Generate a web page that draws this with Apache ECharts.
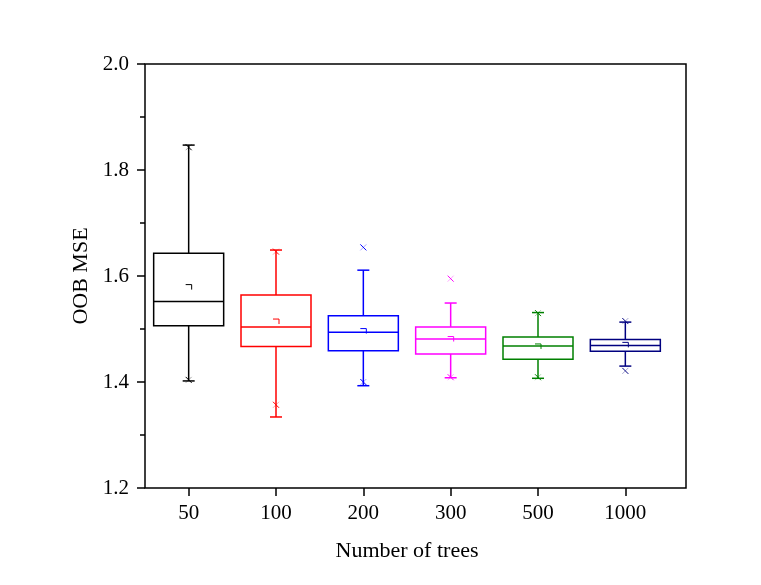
<!DOCTYPE html>
<html>
<head>
<meta charset="utf-8">
<script src="https://cdn.jsdelivr.net/npm/echarts@6/dist/echarts.min.js"></script>
<style>html,body{margin:0;padding:0;background:#fff;}#c{width:761px;height:585px;}</style>
</head>
<body>
<div id="c"></div>
<script>
var categories = ['50', '100', '200', '300', '500', '1000'];
var whiskerLow = [1.402, 1.334, 1.393, 1.408, 1.407, 1.430];
var q1 = [1.506, 1.467, 1.459, 1.453, 1.443, 1.458];
var median = [1.552, 1.504, 1.494, 1.481, 1.468, 1.469];
var q3 = [1.643, 1.564, 1.525, 1.504, 1.485, 1.480];
var whiskerHigh = [1.847, 1.649, 1.611, 1.549, 1.531, 1.513];
var meanVals = [1.580, 1.515, 1.497, 1.482, 1.468, 1.471];
var p1 = [1.404, 1.357, 1.400, 1.409, 1.409, 1.421];
var p99 = [1.843, 1.646, 1.654, 1.595, 1.530, 1.515];
var yTicks = [1.2, 1.4, 1.6, 1.8, 2.0];
var colors = ['#000000', '#FF0000', '#0000FF', '#FF00FF', '#008000', '#000080'];

var FONT = "'Liberation Serif','Times New Roman',serif";

var boxData = categories.map(function (c, i) {
  return [i, whiskerLow[i], q1[i], median[i], q3[i], whiskerHigh[i], meanVals[i], p1[i], p99[i]];
});

function renderBox(params, api) {
  var i = api.value(0);
  var col = colors[i];
  var lo = api.coord([i, api.value(1)]);
  var pq1 = api.coord([i, api.value(2)]);
  var pmed = api.coord([i, api.value(3)]);
  var pq3 = api.coord([i, api.value(4)]);
  var hi = api.coord([i, api.value(5)]);
  var pm = api.coord([i, api.value(6)]);
  var pp1 = api.coord([i, api.value(7)]);
  var pp99 = api.coord([i, api.value(8)]);
  var x = pmed[0];
  var hw = 35, cw = 6, lw = 1.5;
  var st = {stroke: col, lineWidth: lw, fill: null};
  var thin = {stroke: col, lineWidth: 1, fill: null};
  var ch = [];
  ch.push({type: 'rect', shape: {x: x - hw, y: pq3[1], width: 2 * hw, height: pq1[1] - pq3[1]}, style: st});
  ch.push({type: 'line', shape: {x1: x - hw, y1: pmed[1], x2: x + hw, y2: pmed[1]}, style: st});
  ch.push({type: 'line', shape: {x1: x, y1: pq3[1], x2: x, y2: hi[1]}, style: st});
  ch.push({type: 'line', shape: {x1: x, y1: pq1[1], x2: x, y2: lo[1]}, style: st});
  ch.push({type: 'line', shape: {x1: x - cw, y1: hi[1], x2: x + cw, y2: hi[1]}, style: st});
  ch.push({type: 'line', shape: {x1: x - cw, y1: lo[1], x2: x + cw, y2: lo[1]}, style: st});
  // mean marker
  ch.push({type: 'polyline', shape: {points: [[x - 3, pm[1] - 2], [x + 3, pm[1] - 2], [x + 3, pm[1] + 3]]}, style: thin});
  // 1% / 99% markers
  [pp1, pp99].forEach(function (p) {
    ch.push({type: 'line', shape: {x1: x - 3, y1: p[1] - 3, x2: x + 3, y2: p[1] + 3}, style: thin});
    ch.push({type: 'line', shape: {x1: x - 3, y1: p[1] + 3, x2: x + 3, y2: p[1] - 3}, style: {stroke: col, lineWidth: 0.6, opacity: 0.6}});
  });
  return {type: 'group', children: ch};
}

var chart = echarts.init(document.getElementById('c'), null, {renderer: 'canvas'});
chart.setOption({
  backgroundColor: '#ffffff',
  animation: false,
  grid: [
    {left: 145, right: 92, top: 64, bottom: 97, containLabel: false},
    {left: 145, right: 75, top: 64, bottom: 97, show: true, borderColor: '#000', borderWidth: 1.5, backgroundColor: 'transparent', z: 10}
  ],
  xAxis: [
    {
      type: 'category', gridIndex: 0, data: categories, boundaryGap: true,
      name: 'Number of trees', nameLocation: 'middle', nameGap: 52,
      nameTextStyle: {fontFamily: FONT, fontSize: 22, color: '#000'},
      axisLine: {show: false},
      axisTick: {show: true, alignWithLabel: true, inside: false, length: 8, lineStyle: {color: '#000', width: 1.5}},
      axisLabel: {fontFamily: FONT, fontSize: 21, color: '#000', margin: 15},
      splitLine: {show: false}
    },
    {type: 'value', gridIndex: 1, show: false, min: 0, max: 1}
  ],
  yAxis: [
    {
      type: 'value', gridIndex: 0, min: 1.2, max: 2.0, interval: 0.2,
      name: 'OOB MSE', nameLocation: 'middle', nameGap: 53, nameRotate: 90,
      nameTextStyle: {fontFamily: FONT, fontSize: 22, color: '#000'},
      axisLine: {show: false},
      axisTick: {show: true, inside: false, length: 8, lineStyle: {color: '#000', width: 1.5}},
      minorTick: {show: true, splitNumber: 2, length: 5, lineStyle: {color: '#000', width: 1.5}},
      axisLabel: {fontFamily: FONT, fontSize: 21, color: '#000', margin: 16,
        formatter: function (v) { return v.toFixed(1); }},
      splitLine: {show: false}
    },
    {type: 'value', gridIndex: 1, show: false, min: 0, max: 1}
  ],
  series: [{
    type: 'custom', xAxisIndex: 0, yAxisIndex: 0,
    renderItem: renderBox,
    data: boxData,
    encode: {x: 0, y: [1, 2, 3, 4, 5, 6, 7, 8]},
    clip: false
  }]
});
</script>
</body>
</html>
